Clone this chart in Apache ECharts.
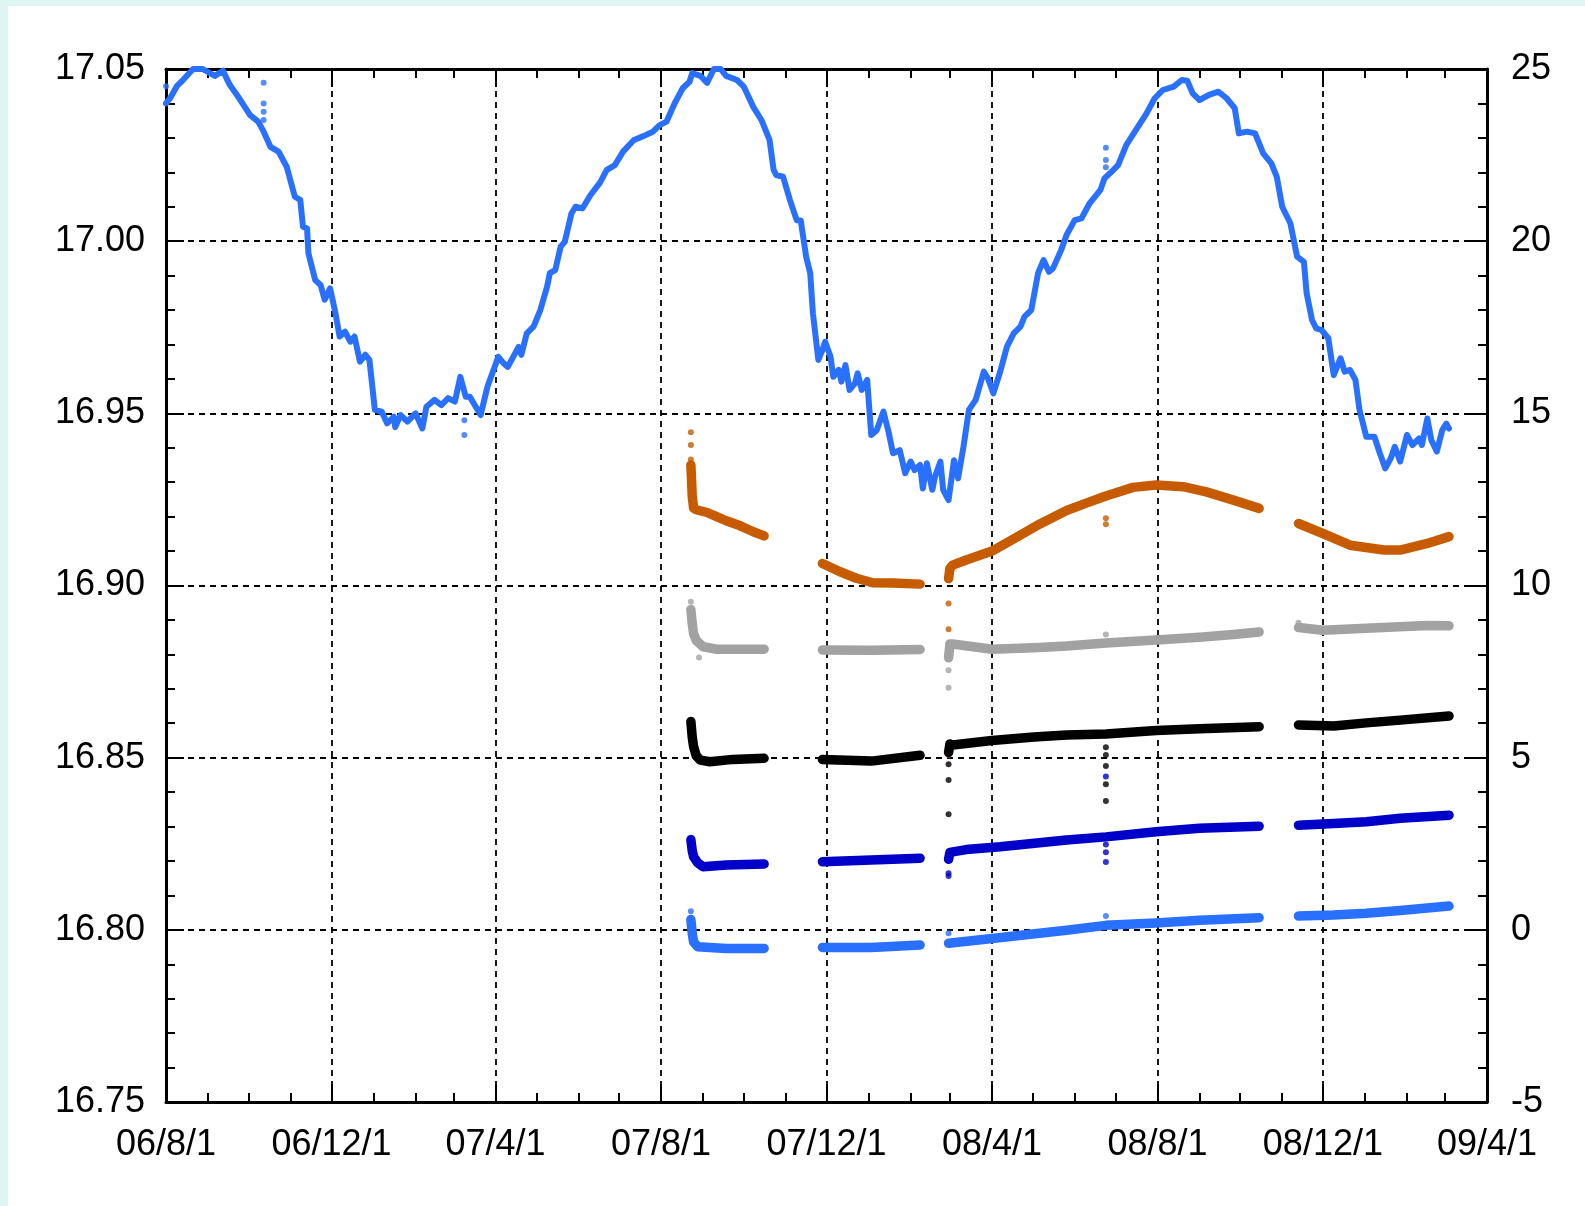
<!DOCTYPE html>
<html>
<head>
<meta charset="utf-8">
<script src="https://cdn.jsdelivr.net/npm/echarts@6/dist/echarts.min.js"></script>
<style>
  html, body { margin: 0; padding: 0; width: 1585px; height: 1206px; overflow: hidden; background: #def5f1; }
  #chart { position: absolute; left: 8px; top: 6px; width: 1577px; height: 1200px; background: #ffffff; }
</style>
</head>
<body>
<div id="chart"></div>
<script>
// ---- axis ticks ----
const xMajorTicks = ['2006-08-01', '2006-12-01', '2007-04-01', '2007-08-01', '2007-12-01',
                     '2008-04-01', '2008-08-01', '2008-12-01', '2009-04-01'];
const xTickLabels = ['06/8/1', '06/12/1', '07/4/1', '07/8/1', '07/12/1',
                     '08/4/1', '08/8/1', '08/12/1', '09/4/1'];
const leftRange = [16.75, 17.05];
const rightRange = [-5, 25];

// ---- level record (left axis) ----
const levelDates = [
  '2006-08-01','2006-08-04','2006-08-09','2006-08-14','2006-08-21','2006-08-28','2006-09-06','2006-09-12',
  '2006-09-17','2006-09-24','2006-10-02','2006-10-08','2006-10-12','2006-10-17','2006-10-23','2006-10-29',
  '2006-11-04','2006-11-08','2006-11-10','2006-11-13','2006-11-14','2006-11-19','2006-11-23','2006-11-26',
  '2006-11-30','2006-12-04','2006-12-07','2006-12-11','2006-12-15','2006-12-18','2006-12-22','2006-12-26',
  '2006-12-29','2007-01-02','2007-01-07','2007-01-11','2007-01-16','2007-01-17','2007-01-21','2007-01-26',
  '2007-02-01','2007-02-06','2007-02-09','2007-02-15','2007-02-20','2007-02-25','2007-03-02','2007-03-06',
  '2007-03-10','2007-03-13','2007-03-21','2007-03-26','2007-04-03','2007-04-07','2007-04-10','2007-04-14',
  '2007-04-18','2007-04-20','2007-04-24','2007-04-29','2007-05-04','2007-05-09','2007-05-11','2007-05-15',
  '2007-05-19','2007-05-22','2007-05-27','2007-05-30','2007-06-04','2007-06-10','2007-06-17','2007-06-22',
  '2007-06-28','2007-07-04','2007-07-12','2007-07-19','2007-07-26','2007-07-31','2007-08-05','2007-08-11',
  '2007-08-17','2007-08-22','2007-08-24','2007-08-30','2007-09-04','2007-09-09','2007-09-14','2007-09-18',
  '2007-09-26','2007-10-01','2007-10-08','2007-10-14','2007-10-20','2007-10-23','2007-10-25','2007-10-30',
  '2007-11-04','2007-11-09','2007-11-12','2007-11-16','2007-11-19','2007-11-21','2007-11-25','2007-11-28',
  '2007-11-30','2007-12-04','2007-12-06','2007-12-10','2007-12-12','2007-12-15','2007-12-18','2007-12-22',
  '2007-12-24','2007-12-27','2007-12-31','2008-01-03','2008-01-07','2008-01-12','2008-01-16','2008-01-19',
  '2008-01-24','2008-01-28','2008-02-01','2008-02-04','2008-02-08','2008-02-10','2008-02-13','2008-02-17',
  '2008-02-19','2008-02-23','2008-02-25','2008-02-29','2008-03-04','2008-03-07','2008-03-11','2008-03-15',
  '2008-03-20','2008-03-26','2008-03-29','2008-04-02','2008-04-07','2008-04-12','2008-04-17','2008-04-22',
  '2008-04-25','2008-04-30','2008-05-05','2008-05-09','2008-05-13','2008-05-16','2008-05-22','2008-05-26',
  '2008-06-01','2008-06-06','2008-06-12','2008-06-20','2008-06-23','2008-06-27','2008-07-03','2008-07-09',
  '2008-07-17','2008-07-24','2008-07-30','2008-08-05','2008-08-13','2008-08-19','2008-08-23','2008-08-27',
  '2008-09-01','2008-09-08','2008-09-15','2008-09-21','2008-09-27','2008-09-30','2008-10-06','2008-10-12',
  '2008-10-18','2008-10-24','2008-10-28','2008-11-01','2008-11-07','2008-11-12','2008-11-17','2008-11-19',
  '2008-11-23','2008-11-26','2008-11-30','2008-12-05','2008-12-09','2008-12-14','2008-12-17','2008-12-21',
  '2008-12-25','2008-12-28','2009-01-02','2009-01-08','2009-01-12','2009-01-16','2009-01-20','2009-01-23',
  '2009-01-27','2009-02-01','2009-02-05','2009-02-10','2009-02-12','2009-02-16','2009-02-19','2009-02-23',
  '2009-02-27','2009-03-02','2009-03-04'
];
const levelValues = [
  17.040,17.0415,17.045,17.047,17.050,17.050,17.048,17.0495,
  17.0454,17.0415,17.0366,17.0347,17.0318,17.0274,17.026,17.0216,
  17.0129,17.012,17.0042,17.0037,16.9965,16.9887,16.9873,16.983,
  16.9863,16.979,16.9723,16.9737,16.9708,16.9723,16.965,16.967,
  16.9655,16.951,16.9505,16.9471,16.949,16.946,16.9495,16.9476,
  16.950,16.9456,16.9519,16.9539,16.9524,16.9544,16.9534,16.9606,
  16.9548,16.9548,16.9495,16.9577,16.9664,16.9645,16.9635,16.9664,
  16.9693,16.967,16.9732,16.9752,16.980,16.9868,16.9907,16.9916,
  16.9984,16.9998,17.0081,17.010,17.0095,17.0134,17.017,17.0207,
  17.0221,17.026,17.0294,17.0305,17.0318,17.0337,17.0347,17.040,
  17.0444,17.0463,17.0488,17.048,17.046,17.050,17.050,17.048,
  17.0468,17.0449,17.039,17.0352,17.0294,17.0207,17.0192,17.0187,
  17.012,17.0061,17.006,16.9955,16.9907,16.979,16.9655,16.9684,
  16.9708,16.9664,16.9606,16.9626,16.9592,16.964,16.9568,16.9587,
  16.9616,16.9568,16.9597,16.9437,16.9451,16.9505,16.9442,16.9384,
  16.9393,16.9326,16.936,16.9335,16.935,16.9282,16.9355,16.9278,
  16.9316,16.936,16.9278,16.9248,16.9364,16.9311,16.9403,16.951,
  16.9539,16.9621,16.9602,16.9558,16.962,16.9693,16.9732,16.9752,
  16.9781,16.980,16.9907,16.9945,16.9911,16.9921,16.9974,17.0018,
  17.0061,17.0066,17.011,17.0149,17.0183,17.0197,17.0221,17.0279,
  17.0328,17.0371,17.0415,17.0439,17.0449,17.0468,17.0466,17.0429,
  17.041,17.0425,17.0434,17.0415,17.0386,17.0313,17.0318,17.0313,
  17.0255,17.0226,17.0187,17.010,17.0052,16.9955,16.994,16.9849,
  16.9771,16.9747,16.9742,16.9718,16.9611,16.966,16.9621,16.9626,
  16.9597,16.951,16.9432,16.9432,16.9384,16.934,16.9369,16.9403,
  16.936,16.9437,16.9408,16.9427,16.9408,16.9485,16.9422,16.9389,
  16.9451,16.947,16.9456
];
const levelSpikes = [
  ['2006-08-01', 17.045], ['2006-10-12', 17.046], ['2006-10-12', 17.040], ['2006-10-12', 17.0376],
  ['2006-10-12', 17.0352], ['2007-03-09', 16.948], ['2007-03-09', 16.9437],
  ['2008-06-24', 17.0271], ['2008-06-24', 17.0236], ['2008-06-24', 17.0215]
];

// ---- sensor records (right axis), one list per logging period ----
const orangeRec = [
  [['2007-08-23',13.5],['2007-08-24',12.6],['2007-08-25',12.25],['2007-08-27',12.2],['2007-09-04',12.12],
   ['2007-09-11',12.0],['2007-09-18',11.88],['2007-09-28',11.74],['2007-10-08',11.56],['2007-10-16',11.44]],
  [['2007-11-28',10.64],['2007-12-11',10.40],['2007-12-23',10.21],['2008-01-04',10.08],['2008-01-19',10.07],
   ['2008-02-08',10.04]],
  [['2008-02-29',10.2],['2008-03-01',10.5],['2008-03-03',10.59],['2008-03-13',10.74],['2008-04-01',11.0],
   ['2008-04-19',11.4],['2008-05-06',11.78],['2008-05-26',12.18],['2008-06-10',12.4],['2008-06-24',12.6],
   ['2008-07-14',12.85],['2008-07-31',12.92],['2008-08-20',12.87],['2008-09-06',12.72],['2008-09-26',12.48],
   ['2008-10-15',12.24]],
  [['2008-11-13',11.80],['2008-12-01',11.51],['2008-12-21',11.17],['2009-01-15',11.03],['2009-01-27',11.03],
   ['2009-02-16',11.22],['2009-03-04',11.42]]
];
const orangeSpikes = [['2007-08-23',14.45],['2007-08-23',14.08],['2007-08-23',13.66],['2008-02-29',9.48],
  ['2008-02-29',8.73],['2008-02-29',5.08],['2008-06-24',11.95],['2008-06-24',11.78]];

const grayRec = [
  [['2007-08-23',9.3],['2007-08-24',8.9],['2007-08-25',8.6],['2007-08-27',8.4],['2007-09-01',8.22],
   ['2007-09-11',8.15],['2007-10-16',8.15]],
  [['2007-11-28',8.13],['2008-01-04',8.12],['2008-02-08',8.14]],
  [['2008-02-29',7.9],['2008-03-01',8.3],['2008-03-03',8.3],['2008-04-01',8.15],['2008-05-06',8.2],
   ['2008-05-26',8.24],['2008-06-24',8.33],['2008-07-31',8.42],['2008-09-01',8.5],['2008-09-26',8.58],
   ['2008-10-15',8.65]],
  [['2008-11-13',8.78],['2008-12-01',8.7],['2009-01-02',8.76],['2009-02-16',8.84],['2009-03-04',8.83]]
];
const graySpikes = [['2007-08-23',9.53],['2007-08-29',7.91],['2008-02-29',7.54],['2008-02-29',7.03],
  ['2008-06-24',8.58],['2008-11-13',8.92]];

const blackRec = [
  [['2007-08-23',6.05],['2007-08-24',5.6],['2007-08-25',5.32],['2007-08-27',5.05],['2007-08-30',4.93],
   ['2007-09-06',4.88],['2007-09-23',4.95],['2007-10-16',4.98]],
  [['2007-11-28',4.95],['2008-01-03',4.90],['2008-02-08',5.07]],
  [['2008-02-29',5.15],['2008-03-01',5.4],['2008-03-03',5.37],['2008-04-01',5.5],['2008-05-02',5.6],
   ['2008-05-26',5.66],['2008-06-24',5.69],['2008-07-31',5.79],['2008-09-01',5.84],['2008-10-15',5.90]],
  [['2008-11-13',5.95],['2008-12-09',5.92],['2009-01-02',6.01],['2009-01-27',6.09],['2009-03-04',6.21]]
];
const blackSpikes = [['2008-02-29',4.81],['2008-02-29',4.35],['2008-02-29',3.36],['2008-06-24',5.3],
  ['2008-06-24',5.08],['2008-06-24',4.76],['2008-06-24',4.23],['2008-06-24',3.74]];

const navyRec = [
  [['2007-08-23',2.62],['2007-08-24',2.3],['2007-08-25',2.12],['2007-08-28',1.95],['2007-09-01',1.83],
   ['2007-09-18',1.88],['2007-10-16',1.91]],
  [['2007-11-28',1.98],['2008-01-03',2.03],['2008-02-08',2.08]],
  [['2008-02-29',2.05],['2008-03-01',2.25],['2008-03-13',2.33],['2008-04-07',2.41],['2008-05-26',2.61],
   ['2008-06-24',2.70],['2008-07-31',2.85],['2008-09-01',2.95],['2008-10-15',3.01]],
  [['2008-11-13',3.04],['2008-12-09',3.09],['2009-01-02',3.14],['2009-01-27',3.24],['2009-03-04',3.33]]
];
const navySpikes = [['2008-02-29',1.64],['2008-02-29',1.56],['2008-06-24',2.48],['2008-06-24',2.25],
  ['2008-06-24',1.97],['2008-06-24',4.45]];

const skyRec = [
  [['2007-08-23',0.3],['2007-08-24',-0.1],['2007-08-25',-0.35],['2007-08-28',-0.49],['2007-09-18',-0.54],
   ['2007-10-16',-0.54]],
  [['2007-11-28',-0.51],['2008-01-03',-0.51],['2008-02-08',-0.44]],
  [['2008-02-29',-0.39],['2008-04-01',-0.25],['2008-05-26',-0.01],['2008-06-24',0.13],['2008-07-31',0.20],
   ['2008-09-01',0.28],['2008-10-15',0.35]],
  [['2008-11-13',0.40],['2008-12-09',0.43],['2009-01-02',0.48],['2009-01-27',0.56],['2009-03-04',0.69]]
];
const skySpikes = [['2007-08-23',0.54],['2008-02-29',-0.10],['2008-06-24',0.40]];

// ---- helpers ----
function ts(s) {
  const p = s.split('-').map(Number);
  return new Date(p[0], p[1] - 1, p[2]).getTime();
}
function toXY(pairs) {
  return pairs.map(function (p) { return [ts(p[0]), p[1]]; });
}
const majorTs = xMajorTicks.map(ts);
const monthTs = [];
for (let d = new Date(2006, 7, 1); d.getTime() <= majorTs[majorTs.length - 1]; d.setMonth(d.getMonth() + 1)) {
  monthTs.push(d.getTime());
}

const FONT = '"Liberation Sans", Arial, Helvetica, sans-serif';
const FONT_SIZE = 36;
const frame = { show: true, onZero: false, lineStyle: { color: '#000', width: 3 } };
const noLine = { show: false, onZero: false };
const gridDash = { show: true, lineStyle: { color: '#000', width: 1.8, type: [6, 5] } };

function xAx(position, ticks, len, opts) {
  return Object.assign({
    type: 'value', gridIndex: 0, position: position,
    min: majorTs[0], max: majorTs[majorTs.length - 1],
    axisLine: noLine,
    axisTick: { show: true, inside: true, length: len, customValues: ticks, lineStyle: { color: '#000', width: 2 } },
    axisLabel: { show: false },
    splitLine: { show: false }
  }, opts || {});
}

const xAxes = [
  xAx('bottom', majorTs, 18, {
    axisLine: frame,
    axisLabel: {
      show: true, customValues: majorTs, margin: 25, color: '#000', fontSize: FONT_SIZE, fontFamily: FONT,
      formatter: function (v) {
        let best = 0;
        majorTs.forEach(function (t, i) { if (Math.abs(t - v) < Math.abs(majorTs[best] - v)) best = i; });
        return xTickLabels[best];
      }
    },
    splitLine: gridDash
  }),
  xAx('bottom', monthTs, 9),
  xAx('top', majorTs, 18, { axisLine: frame }),
  xAx('top', monthTs, 9)
];

function yAx(position, range, interval, fmt, split, margin) {
  return {
    type: 'value', position: position, min: range[0], max: range[1], interval: interval,
    axisLine: frame,
    axisTick: { show: true, inside: true, length: 18, lineStyle: { color: '#000', width: 2 } },
    minorTick: { show: true, splitNumber: 5, length: 9, lineStyle: { color: '#000', width: 2 } },
    axisLabel: { show: true, margin: margin, color: '#000', fontSize: FONT_SIZE, fontFamily: FONT, formatter: fmt },
    splitLine: split ? gridDash : { show: false },
    minorSplitLine: { show: false }
  };
}

const yAxes = [
  yAx('left', leftRange, 0.05, function (v) { return v.toFixed(2); }, true, 21),
  yAx('right', rightRange, 5, function (v) { return String(Math.round(v)); }, false, 24)
];

const series = [];
function addRecord(name, color, segments, spikes) {
  segments.forEach(function (seg) {
    series.push({
      type: 'line', name: name, xAxisIndex: 0, yAxisIndex: 1, data: toXY(seg),
      symbol: 'none', showSymbol: false, silent: true,
      lineStyle: { color: color, width: 9.5, cap: 'round', join: 'round' }
    });
  });
  series.push({
    type: 'scatter', name: name, xAxisIndex: 0, yAxisIndex: 1, data: toXY(spikes),
    symbol: 'circle', symbolSize: 6, silent: true, itemStyle: { color: color }
  });
}
addRecord('orange', '#c65b00', orangeRec, orangeSpikes);
addRecord('gray', '#a2a2a2', grayRec, graySpikes);
addRecord('black', '#000000', blackRec, blackSpikes);
addRecord('navy', '#0000c8', navyRec, navySpikes);
addRecord('sky', '#2a70ff', skyRec, skySpikes);

series.push({
  type: 'line', name: 'level', xAxisIndex: 0, yAxisIndex: 0,
  data: levelDates.map(function (d, i) { return [ts(d), levelValues[i]]; }),
  symbol: 'none', showSymbol: false, silent: true,
  lineStyle: { color: '#2a70ff', width: 6, cap: 'round', join: 'round' }
});
series.push({
  type: 'scatter', name: 'level', xAxisIndex: 0, yAxisIndex: 0, data: toXY(levelSpikes),
  symbol: 'circle', symbolSize: 6, silent: true, itemStyle: { color: '#2a70ff' }
});

const chart = echarts.init(document.getElementById('chart'), null, { renderer: 'canvas' });
chart.setOption({
  animation: false,
  backgroundColor: '#ffffff',
  grid: { left: 158, right: 98, top: 63, bottom: 104, containLabel: false },
  xAxis: xAxes,
  yAxis: yAxes,
  series: series
});
</script>
</body>
</html>
